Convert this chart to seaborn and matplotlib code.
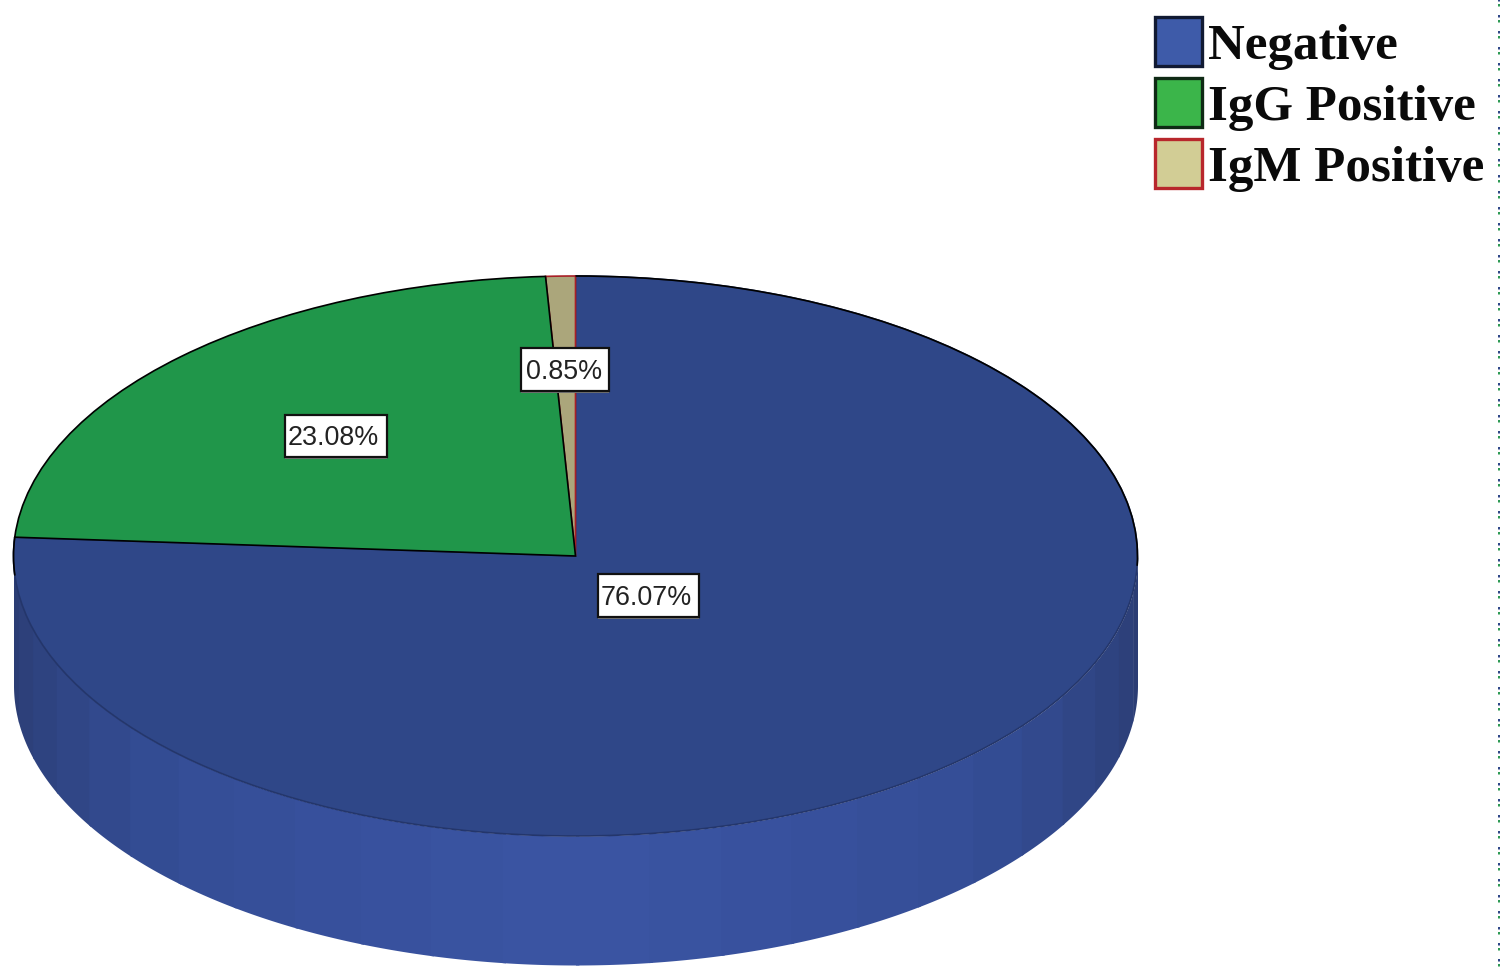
import numpy as np
import matplotlib
matplotlib.use("Agg")
import matplotlib.pyplot as plt
from matplotlib.patches import Patch, Arc, Rectangle
import seaborn as sns

categories = ["Negative", "IgG Positive", "IgM Positive"]
percentages = [76.07, 23.08, 0.85]
face_colors = ["#2F4788", "#20964A", "#ABA67B"]
legend_colors = ["#3E5BA9", "#3BB54A", "#D2CD95"]
edge_colors = ["#24366B", "#000000", "#A81F26"]
legend_edges = ["#111A33", "#0F2A15", "#B8272C"]
wall_ramp = ["#2B3D74", "#344D96", "#3A54A2"]

W, H = 1500, 971
CX, CY, RX, RY, DEPTH = 575.5, 556.0, 562.0, 280.0, 129.0

sns.set_theme(style="white")
fig = plt.figure(figsize=(W / 100, H / 100), dpi=100, facecolor="white")
ax = fig.add_axes([0, 0, 1, 1])


def data_x(px):
    return (px - CX) / RX


def data_y(py):
    return (CY - py) / RY


wedges, _, autotexts = ax.pie(
    percentages, colors=face_colors, startangle=90, counterclock=False,
    autopct="%.2f%%", radius=1, center=(0, 0),
    wedgeprops=dict(linewidth=1.2),
    textprops=dict(family="Liberation Sans", fontsize=19.4, color="#222222"),
)
ax.set_aspect("auto")
ax.set_xlim(data_x(0), data_x(W))
ax.set_ylim(data_y(H), data_y(0))
ax.axis("off")

for w, ec, z in zip(wedges, edge_colors, [3, 5, 4]):
    w.set_edgecolor(ec)
    w.set_zorder(z)

# Side wall of the disc: shaded facets along the lower half
n_facets = 24
half = n_facets // 2
ramp = sns.blend_palette(wall_ramp, half)
shades = list(ramp) + list(ramp)[::-1]
depth_u = DEPTH / RY
edges = np.linspace(np.pi, 2 * np.pi, n_facets + 1)
for i, (a0, a1, c) in enumerate(zip(edges[:-1], edges[1:], shades)):
    # facets overlap slightly so no seam shows between them
    t = np.linspace(a0, a1 + (0.006 if i < n_facets - 1 else 0), 30)
    ax.fill_between(np.cos(t), np.sin(t), np.sin(t) - depth_u, color=c, lw=0, zorder=1 + i * 0.01)

# Black rim on the back of the top face
ax.add_patch(Arc((0, 0), 2, 2, theta1=-2, theta2=90, color="black", lw=1.2, zorder=6))
ax.add_patch(Arc((0, 0), 2, 2, theta1=176, theta2=184, color="black", lw=1.2, zorder=6))

# Percentage labels on boxes with a soft lower shadow
label_px = [(646, 598), (333, 438), (564.5, 372)]
box_px = [(598, 574, 699, 617), (285, 415, 387, 457), (521, 348, 609, 391)]
for t, (px, py), (x0, y0, x1, y1) in zip(autotexts, label_px, box_px):
    t.set_position((data_x(px), data_y(py)))
    t.set_ha("center")
    t.set_va("center")
    t.set_zorder(10)
    ax.add_patch(Rectangle((data_x(x0), data_y(y1 + 2)), (x1 - x0) / RX, (y1 + 2 - y0) / RY,
                           fc="#777777", ec="none", zorder=8))
    ax.add_patch(Rectangle((data_x(x0), data_y(y1)), (x1 - x0) / RX, (y1 - y0) / RY,
                           fc="white", ec="#111111", lw=1.6, zorder=9))

# Legend
handles = [Patch(facecolor=f, edgecolor=e, linewidth=2.4) for f, e in zip(legend_colors, legend_edges)]
leg = fig.legend(
    handles, categories, loc="upper left", bbox_to_anchor=(1140 / W, 1 - 2 / H),
    frameon=False, handlelength=0.92, handleheight=1.1, handletextpad=0.12,
    labelspacing=0.16, borderpad=0.3, borderaxespad=0,
    prop=dict(family="Liberation Serif", weight="bold", size=36.7),
    labelcolor="#0a0a0a",
)

# Dotted frame edge on the right: two-tone dashes
for color, offset in (("#2F4788", 0), ("#2E9A55", -2.5)):
    ax.plot([data_x(1498.7)] * 2, [data_y(-5), data_y(H + 16)], color=color, lw=1.44,
            ls=(offset, (1.25, 6.75)), zorder=2)

fig.savefig("out.png", dpi=100, facecolor="white")
